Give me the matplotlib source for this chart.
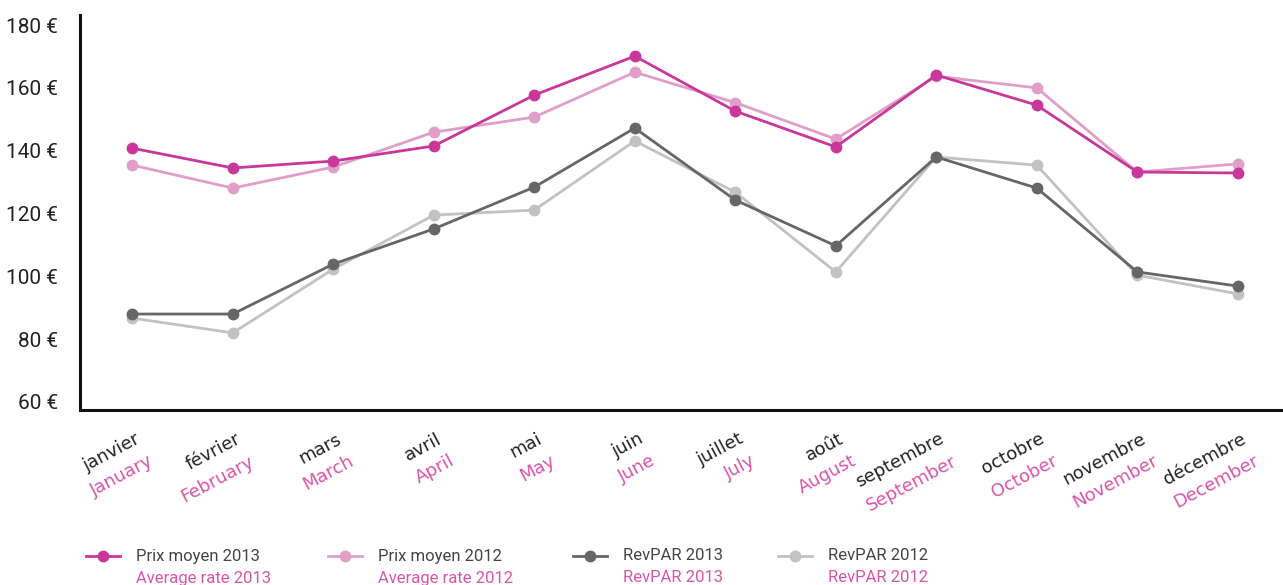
import matplotlib
matplotlib.use("Agg")
import matplotlib.pyplot as plt
from matplotlib.lines import Line2D

months_fr = ["janvier", "février", "mars", "avril", "mai", "juin", "juillet",
             "août", "septembre", "octobre", "novembre", "décembre"]
months_en = ["January", "February", "March", "April", "May", "June", "July",
             "August", "September", "October", "November", "December"]

prix_2013 = [140.8, 134.5, 136.7, 141.5, 157.7, 170.1, 152.6, 141.2, 164.1, 154.5, 133.2, 132.9]
prix_2012 = [135.4, 128.1, 134.8, 145.9, 150.7, 165.0, 155.3, 143.7, 163.7, 160.0, 133.2, 135.8]
revpar_2013 = [88.0, 88.0, 103.9, 115.1, 128.4, 147.2, 124.3, 109.7, 138.0, 128.1, 101.4, 96.9]
revpar_2012 = [86.7, 82.0, 102.3, 119.5, 121.1, 143.1, 126.8, 101.4, 138.0, 135.4, 100.4, 94.4]

yticks = [60, 80, 100, 120, 140, 160, 180]

series_fr = ["Prix moyen 2013", "Prix moyen 2012", "RevPAR 2013", "RevPAR 2012"]
series_en = ["Average rate 2013", "Average rate 2012", "RevPAR 2013", "RevPAR 2012"]
colors = ["#c9379a", "#e09ec8", "#666666", "#c2c2c2"]
pink_text = "#d855aa"

W, H = 1283, 585
fig = plt.figure(figsize=(W / 100, H / 100), dpi=100)
ax = fig.add_axes([80 / W, 1 - 410 / H, (W - 80) / W, (410 - 15) / H])

x = list(range(12))
data = [prix_2013, prix_2012, revpar_2013, revpar_2012]
order = [3, 1, 2, 0]
for i in order:
    ax.plot(x, data[i], color=colors[i], lw=2.0, marker="o", ms=7.5, zorder=3)

ax.set_xlim(-0.52, 11.45)
ax.set_ylim(57.45, 183.2)
ax.set_yticks(yticks)
ax.set_yticklabels([f"{v} €" for v in yticks], fontsize=15, family="Roboto",
                   color="#222222")
ax.tick_params(axis="y", length=0, pad=16)
ax.set_xticks([])
for s in ["top", "right"]:
    ax.spines[s].set_visible(False)
for s in ["left", "bottom"]:
    ax.spines[s].set_linewidth(2.2)
    ax.spines[s].set_color("#111111")

for i in x:
    ax.annotate(months_fr[i], xy=(i, 0), xycoords=("data", "axes fraction"),
                xytext=(5, -20), textcoords="offset points", rotation=28,
                rotation_mode="anchor", ha="right", va="center",
                fontsize=13, color="#222222", family="DejaVu Sans")
    ax.annotate(months_en[i], xy=(i, 0), xycoords=("data", "axes fraction"),
                xytext=(14, -36), textcoords="offset points", rotation=28,
                rotation_mode="anchor", ha="right", va="center",
                fontsize=13, color=pink_text, family="DejaVu Sans")

# legend
leg_x = [103, 345, 590, 795]
for i in range(4):
    lx = leg_x[i]
    ly = 556
    fig.add_artist(Line2D([(lx - 17) / W, (lx + 17) / W], [1 - ly / H, 1 - ly / H],
                          color=colors[i], lw=2.0, transform=fig.transFigure))
    fig.add_artist(Line2D([lx / W], [1 - ly / H], color=colors[i], marker="o", ms=7.5,
                          lw=0, transform=fig.transFigure))
    fig.text((lx + 33) / W, 1 - ly / H, series_fr[i], fontsize=12, family="Roboto",
             color="#444444", va="center", ha="left")
    fig.text((lx + 33) / W, 1 - 578 / H, series_en[i], fontsize=12, family="Roboto",
             color=pink_text, va="center", ha="left")

fig.savefig("out.png", dpi=100)
